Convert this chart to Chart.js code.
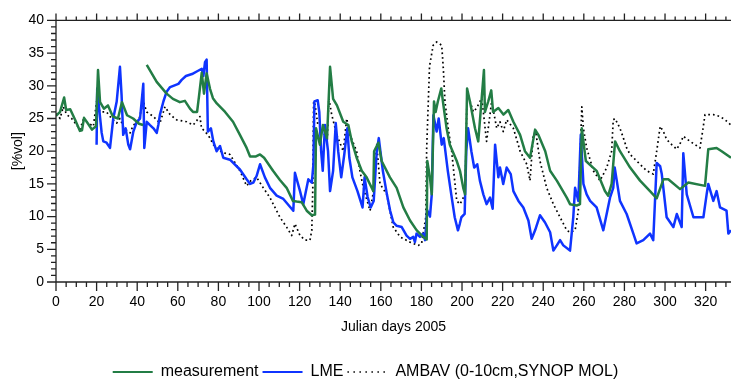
<!DOCTYPE html>
<html>
<head>
<meta charset="utf-8">
<script src="https://cdn.jsdelivr.net/npm/chart.js@4"></script>
<style>
  html, body { margin: 0; padding: 0; background: #fff; }
</style>
</head>
<body>
<canvas id="soil" width="731" height="379"></canvas>
<script>
// soil moisture, Julian days 2005
const measDays = [0, 2, 4, 5, 7, 9.4, 11.8, 12.8, 13.8, 15.8, 17.7, 19.7, 20.7, 21.7, 23.6, 25.6, 28, 30.5, 32.5, 35, 38, 40.9, 42.9, 43.8,
  44.7, 49.6, 54.5, 57.6, 61, 63.5, 66, 67.5, 69.5, 70.4, 71.8, 72.9, 74.2, 75.9, 77.3, 79.2, 83.3, 87.2, 90.6, 93.9, 95.6, 98.5,
  100.5, 102.5, 106.9, 110.3, 113.6, 116.7, 118.5, 121, 123.5, 126, 127.6, 128.1, 130, 131.5, 133.5, 135, 136.5, 138.4, 141.5, 144,
  145.7, 148.1, 150.6, 153, 155.5, 156.3, 156.7, 158.8, 160.4, 164.5, 167.8, 171.1, 174.4, 177.7, 180.9, 182.6, 182.9, 184.2, 185.1,
  186.2, 187, 188.1, 189.8, 190.6, 192.4, 194, 197.4, 199, 200.6, 201.5, 202.5, 203.9, 206.4, 208, 210.8, 211.3, 212.9, 214.4, 215.3,
  217.9, 220.4, 222.8, 225.3, 228.6, 231, 233.5, 236, 237.6, 241, 243.4, 246.7, 251.6, 253.2, 256.5, 258.1, 259, 261, 266.3, 270.4,
  272, 273.7, 275.4, 277.8, 282.8, 287.7, 292.6, 295.9, 299.2, 301.6, 307.4, 311.5, 319.7, 321.3, 325.4, 327.9, 332.5];
const measVals = [25.4, 26, 28.2, 26.3, 26.4, 24.8, 23.1, 23.2, 25.1, 24.2, 23.3, 23.8, 32.4, 27.5, 26.5, 27, 25.3, 25, 27.5, 25.5, 25, 24.2, 24, null,
  33.2, 30.6, 28.8, 28, 27.5, 27.7, 26.5, 26, 26, 28.3, 32, 28.8, 31.9, 29.5, 28.1, 27.3, 26, 24.5, 22.5, 20.5, 19.2, 19.2,
  19.5, 19, 17, 15.6, 14.4, 12.4, 12.3, 12.2, 10.9, 10.2, 10.3, 23.5, 21, 24, 22, 32.9, 28, 27, 24.5, 24,
  21.5, 19, 17, 16, 14.4, 13.9, 20, 21.3, 18.5, 16, 14.4, 11.4, 9.4, 7.9, 6.9, 6.5, 18.5, 16, 13.4,
  27.6, 26, 27.6, 29.6, 27.6, 23.5, 21, 18.5, 17, 14.4, 13.4, 29.6, 27.6, 23.5, 21.5, 32.4, 26, 27.6, 29.3, 26,
  26.6, 25.6, 26.3, 24.5, 22.5, 20, 19, 23.3, 22.5, 20, 17, 15.5, 12.9, 11.9, 11.7, 11.9, 23.5, 18.5, 17, 13.9,
  13.2, 15, 21.5, 20, 17.5, 15.5, 13.9, 12.8, 15.7, 15.7, 14.2, 15.2, 14.7, 20.3, 20.5, 20, 19];

const lmeDays = [20, 20.3, 20.9, 22.5, 23.3, 24.9, 26.6, 28.2, 29.9, 31.5, 32.3, 33.1, 34.3, 35.6, 36.5, 38.1, 39.8, 41.4, 43, 43.5,
  44.7, 46.3, 48, 49.6, 50.4, 51.2, 52.9, 54.5, 56.2, 57.8, 60.3, 61.9, 64, 67, 70, 71.8, 72.6, 73.4, 74.2, 74.8, 76.3, 77.5, 79.1,
  80.8, 82.4, 85.7, 90.6, 93.9, 95.6, 97.2, 98.8, 100.5, 102.9, 105.4, 108.7, 112, 116.9, 117.7, 120.2, 121.8, 124.3, 126, 126.8,
  127.3, 128.9, 129.7, 130.6, 131.4, 132.5, 134, 135, 136.5, 137.8, 139, 140.5, 142, 143.5, 144.5, 146, 148.5, 151, 152, 153.5, 155,
  156.5, 158, 159, 161, 163, 164.6, 166.2, 167.8, 170.3, 172.7, 174.4, 176, 176.8, 177.6, 179.3, 180.9, 181.8, 182.8, 184.2, 185.1,
  185.9, 187.5, 188.5, 190, 191, 193, 194.7, 196.4, 198, 198.9, 199.7, 201.3, 202.1, 203, 204.6, 206, 207.5, 208.8, 210.5, 212.1,
  213.8, 215.1, 216.3, 217.9, 218.7, 220.3, 222, 224, 225.3, 227.8, 230.2, 232.7, 234.3, 236, 238.4, 240.9, 243.4, 245, 246.7,
  248.3, 249.9, 253.2, 254.8, 255.7, 257.3, 258.5, 259.8, 261.4, 263.1, 266.3, 269.6, 272.9, 274.5, 275.2, 277.8, 281.1, 284.4,
  286, 289.3, 292.6, 294.2, 295.9, 297.6, 298.4, 300.8, 304.1, 305.8, 308.2, 309, 310.7, 314, 318.9, 320.5, 321.3, 323.8, 325.4,
  327.1, 330.3, 331.2, 332.5];
const lmeVals = [21, 29.6, 27.6, 22.8, 21.5, 21.3, 20.5, 25, 27.6, 32.9, 28.6, 22.5, 23.5, 21, 20.3, 23, 24.5, 25, 30.3, 20.5,
  24.5, 24, 23.5, 22.8, 24, 25.6, 27.6, 29.1, 29.8, 30, 30.3, 30.9, 31.5, 31.8, 32.3, 32.6, 31.5, 33.6, 34, 23, 23.5, 21.5, 20,
  20.8, 19, 18.7, 17.2, 15.7, 15, 15.2, 16.2, 18, 16, 14.4, 13.2, 12.7, 10.9, 16.7, 13.9, 11.9, 15.7, 15.2, 18,
  27.6, 27.8, 26, 20, 17, 24, 20, 13.9, 17, 24.3, 20, 16, 19.5, 23.5, 19, 16, 13.9, 11.4, 16, 13, 11.4,
  12.4, 20, 22, 17, 13.4, 10.9, 9.1, 8.6, 8.4, 7.1, 6.6, 6.9, 6.1, 7.4, 6.9, 7.4, 6.4, 11, 10, 13.4,
  25.5, 23, 25, 21, 22, 17, 13.4, 9.9, 7.9, 8.9, 9.9, 10.4, 20, 23.5, 20, 17.5, 18, 15.5, 13.4, 11.9,
  12.9, 11.2, 21, 16, 17.5, 15, 17.5, 16.5, 13.9, 12.4, 11.4, 9.4, 6.6, 7.9, 10.2, 9.1, 7.6, 4.8, 5.6,
  6.4, 5.6, 4.8, 9.9, 14.4, 12.4, 22.5, 15, 13.4, 12.4, 11.4, 7.9, 12.9, 14.4, 17.5, 12.4, 10.4, 7.4,
  5.9, 6.4, 7.4, 6.4, 18.2, 17.7, 16.5, 9.9, 8.4, 10.4, 8.4, 19.7, 13.4, 9.9, 9.9, 13.4, 15, 12.4, 13.9,
  11.4, 10.9, 7.4, 7.9];

const ambavDays = [0.3, 2, 3.6, 5.3, 7.7, 10.2, 11.8, 13.4, 15.9, 18.4, 20, 21.7, 24.9, 27.4, 29.9, 31.5, 33.5, 36.5, 38.1, 40.6, 43,
  44.7, 48, 51.2, 53.7, 56.2, 59.4, 64.4, 67.6, 70.9, 71.7, 73.5, 75.9, 77.5, 79.1, 82, 85.7, 90.6, 93.9, 96, 98.8, 102.1, 105.4,
  110.3, 113.6, 116.1, 117.7, 120.2, 122.7, 125.1, 126, 126.5, 126.9, 127.6, 129, 131.1, 133.6, 134.4, 135.8, 138.3, 141.5, 143.2,
  144.8, 148.1, 149.7, 151.4, 154.7, 156.3, 158, 159.6, 162.9, 166.1, 169.5, 174.3, 178.5, 180.1, 182.2, 182.6, 184, 185.8, 187.5,
  190, 190.8, 191.6, 193.2, 194.9, 197.4, 199, 201.5, 202.5, 205.6, 207.2, 209.7, 210.5, 212.1, 214.6, 217.1, 218.7, 220.3, 222,
  225.3, 227.7, 228.6, 231.9, 233.5, 235.1, 236.3, 238.4, 241.7, 245, 248.3, 251.6, 253.2, 255.7, 257.3, 259, 259.8, 261.4, 264.7,
  268, 271.3, 273.7, 274.5, 275.4, 277.8, 279.5, 281.1, 282.8, 287.7, 291, 294.2, 295.9, 297.6, 299.2, 300.8, 303.3, 305.8, 308,
  309, 312.3, 314.8, 317.2, 318.5, 319.7, 323.8, 327.1, 329.6, 332.5];
const ambavVals = [25.8, 25, 26.8, 25.6, 25, 24, 23.3, 24.8, 24.3, 23.8, 27.6, 26, 26, 25, 24.3, 25, 23.5, 22.8, 24, 24.5, 27.6,
  26, 25.3, 24.3, 26.8, 25.6, 24.8, 24.5, 24, 25.3, 23.5, 23, 22, 21, 20.5, 19.8, 19.5, 17, 14.7, 15.5, 16, 14.4, 12.9,
  9.9, 8.4, 7.1, 8.9, 7.1, 6.4, 6.4, 7.9, 14.4, 27.6, 27.1, 24, 23.5, 21.5, 28.1, 25.6, 22.5, 20, 25,
  22.5, 20, 17, 14.4, 10.9, 13.7, 21, 15, 13.4, 8.4, 6.9, 6.1, 5.6, 5.9, 10, 20.5, 33, 36.2, 36.7,
  36.2, 32.6, 27.6, 23.5, 20, 12.4, 11.9, 13.4, 29.1, 26, 26.6, 28.1, 26, 21.5, 27.6, 23.5, 24.5, 23, 24.8,
  23.5, 21, 20, 18, 15.5, 22.5, 23, 18.5, 14.4, 11.9, 9.9, 7.9, 7.6, 7.9, 10.9, 26.8, 23.5, 20.5, 17,
  15.5, 17.5, 20, 24.8, 25, 23.5, 22, 20.5, 19.5, 18, 17, 16.5, 20, 23.8, 23, 21.8, 21, 20.3, 21.5,
  22.3, 21.5, 21, 20.5, 23, 25.6, 25.6, 25.3, 24.8, 24];

const xTicks = [0, 20, 40, 60, 80, 100, 120, 140, 160, 180, 200, 220, 240, 260, 280, 300, 320];
const yTicks = [0, 5, 10, 15, 20, 25, 30, 35, 40];

const toPoints = (days, vals) => days.map((d, i) => ({ x: d, y: vals[i] }));

const font14 = { family: "'Liberation Sans', Arial, sans-serif", size: 14 };
const font16 = { family: "'Liberation Sans', Arial, sans-serif", size: 16 };

// axis frame with major/minor ticks pointing outwards
const frame = {
  id: 'frame',
  afterDraw(chart) {
    const { ctx, chartArea: a } = chart;
    const x = chart.scales.x, y = chart.scales.y;
    ctx.save();
    ctx.strokeStyle = '#222';
    ctx.lineWidth = 1.3;
    ctx.beginPath();
    ctx.moveTo(a.left, a.top); ctx.lineTo(a.left, a.bottom);
    ctx.moveTo(a.left, a.bottom); ctx.lineTo(a.right, a.bottom);
    ctx.moveTo(a.left, a.top); ctx.lineTo(a.right, a.top);
    for (let v = 0; v <= x.max; v += 5) {
      const px = x.getPixelForValue(v);
      const major = xTicks.includes(v);
      ctx.moveTo(px, a.bottom); ctx.lineTo(px, a.bottom + (major ? 9 : 5));
      ctx.moveTo(px, a.top); ctx.lineTo(px, a.top - (major ? 7 : 4));
    }
    for (let v = 0; v <= 40; v += 1) {
      const py = y.getPixelForValue(v);
      const major = yTicks.includes(v);
      ctx.moveTo(a.left, py); ctx.lineTo(a.left - (major ? 9 : 5), py);
    }
    ctx.stroke();
    ctx.restore();
  }
};

new Chart(document.getElementById('soil'), {
  type: 'line',
  data: {
    datasets: [{
      label: 'measurement',
      data: toPoints(measDays, measVals),
      borderColor: '#237d45',
      borderWidth: 2.5
    }, {
      label: 'LME',
      data: toPoints(lmeDays, lmeVals),
      borderColor: '#0f34ff',
      borderWidth: 2.5
    }, {
      label: 'AMBAV (0-10cm,SYNOP MOL)',
      data: toPoints(ambavDays, ambavVals),
      borderColor: '#000',
      borderWidth: 1.7,
      borderDash: [1.7, 3]
    }]
  },
  options: {
    responsive: false,
    animation: false,
    devicePixelRatio: 1,
    spanGaps: false,
    elements: { point: { radius: 0 }, line: { tension: 0, borderJoinStyle: 'round' } },
    layout: { padding: { top: 18, right: 0, left: 0, bottom: -11 } },
    scales: {
      x: {
        type: 'linear', min: 0, max: 332.5,
        grid: { display: false, drawTicks: false },
        border: { display: false },
        afterBuildTicks: s => { s.ticks = xTicks.map(v => ({ value: v })); },
        ticks: { padding: 12, color: '#000', font: font14, maxRotation: 0, autoSkip: false },
        title: { display: true, text: 'Julian days 2005', color: '#000', font: font14, padding: { top: 4, bottom: 24 } },
        afterFit: s => { s.height = 78; }
      },
      y: {
        min: 0, max: 40,
        grid: { display: false, drawTicks: false },
        border: { display: false },
        afterBuildTicks: s => { s.ticks = yTicks.map(v => ({ value: v })); },
        ticks: { padding: 12, color: '#000', font: font14 },
        title: { display: true, text: '[%vol]', color: '#000', font: font14, padding: { top: 10, bottom: 0 } },
        afterFit: s => { s.width = 56; }
      }
    },
    plugins: {
      tooltip: { enabled: false },
      legend: {
        position: 'bottom',
        labels: {
          color: '#000',
          font: font16,
          usePointStyle: true,
          pointStyle: 'line',
          pointStyleWidth: 40,
          padding: 4,
          generateLabels: chart => Chart.defaults.plugins.legend.labels.generateLabels(chart).map(l => {
            const ds = chart.data.datasets[l.datasetIndex];
            const dotted = Array.isArray(ds.borderDash);
            return { ...l, strokeStyle: ds.borderColor, lineWidth: dotted ? 1.5 : 1.8, lineDash: dotted ? [1.5, 4.5] : [] };
          })
        }
      }
    }
  },
  plugins: [frame]
});
</script>
</body>
</html>
